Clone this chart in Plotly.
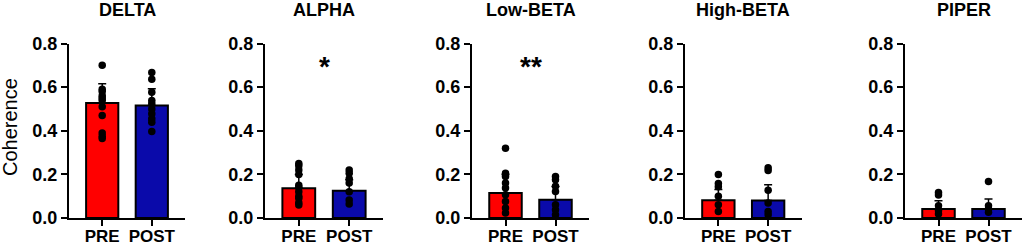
import plotly.graph_objects as go

bands = ["DELTA", "ALPHA", "Low-BETA", "High-BETA", "PIPER"]
groups = ["PRE", "POST"]
pre_mean = [0.527, 0.136, 0.115, 0.081, 0.041]
post_mean = [0.516, 0.125, 0.084, 0.080, 0.041]
pre_sd = [0.089, 0.064, 0.085, 0.050, 0.038]
post_sd = [0.077, 0.050, 0.060, 0.073, 0.046]
pre_points = [
    [0.70, 0.59, 0.58, 0.56, 0.55, 0.54, 0.51, 0.47, 0.39, 0.375, 0.365],
    [0.25, 0.24, 0.22, 0.20, 0.15, 0.14, 0.12, 0.10, 0.09, 0.07, 0.06],
    [0.32, 0.205, 0.19, 0.16, 0.137, 0.107, 0.076, 0.046, 0.023],
    [0.20, 0.158, 0.143, 0.10, 0.061, 0.03],
    [0.117, 0.105, 0.056, 0.033, 0.018],
]
post_points = [
    [0.667, 0.636, 0.577, 0.539, 0.524, 0.50, 0.478, 0.455, 0.439, 0.397],
    [0.22, 0.205, 0.18, 0.16, 0.12, 0.082, 0.064],
    [0.19, 0.175, 0.145, 0.122, 0.061, 0.038, 0.015],
    [0.23, 0.218, 0.127, 0.069, 0.03, 0.015],
    [0.167, 0.056, 0.041, 0.026],
]
significance = ["", "*", "**", "", ""]
y_ticks = [0.0, 0.2, 0.4, 0.6, 0.8]

W, H = 1024, 246
px_domains = [(69, 185), (265, 383), (472, 589), (685, 801.5), (905, 1022)]
y_bottom_px, y_top_px = 218, 43.5
ydom = [(H - y_bottom_px) / H, (H - y_top_px) / H]

FONT = "Liberation Sans, Arial, sans-serif"
RED = "#FF0000"
BLUE = "#0A0AAA"

fig = go.Figure()
annotations = []
for i, band in enumerate(bands):
    xa = "x" if i == 0 else f"x{i+1}"
    ya = "y" if i == 0 else f"y{i+1}"
    fig.add_trace(go.Bar(
        x=groups, y=[pre_mean[i], post_mean[i]],
        marker=dict(color=[RED, BLUE], line=dict(color="black", width=2)),
        width=0.65,
        error_y=dict(type="data", symmetric=False, array=[pre_sd[i], post_sd[i]],
                     arrayminus=[0, 0], color="black", thickness=1.5, width=4),
        xaxis=xa, yaxis=ya, showlegend=False, hoverinfo="skip",
    ))
    xs = ["PRE"] * len(pre_points[i]) + ["POST"] * len(post_points[i])
    ys = pre_points[i] + post_points[i]
    fig.add_trace(go.Scatter(
        x=xs, y=ys, mode="markers",
        marker=dict(color="black", size=7.5),
        xaxis=xa, yaxis=ya, showlegend=False, cliponaxis=False,
    ))
    d0, d1 = px_domains[i]
    dom = [d0 / W, d1 / W]
    axis_common = dict(showline=True, linecolor="black", linewidth=2,
                       ticks="outside", tickcolor="black", tickwidth=2,
                       showgrid=False, zeroline=False, automargin=False)
    fig.update_layout(**{
        ("xaxis" if i == 0 else f"xaxis{i+1}"): dict(
            domain=dom, anchor=ya, range=[-0.67, 1.67], ticklen=6,
            type="category", categoryorder="array", categoryarray=groups,
            ticklabelstandoff=-4,
            tickfont=dict(family=FONT, size=17, color="black", weight="bold"),
            **axis_common),
        ("yaxis" if i == 0 else f"yaxis{i+1}"): dict(
            domain=ydom, anchor=xa, range=[0, 0.8], tickvals=y_ticks,
            ticktext=[f"{v:.1f}" for v in y_ticks], ticklen=6,
            tickfont=dict(family=FONT, size=18, color="black", weight="bold"),
            **axis_common),
    })
    cx = (d0 + d1) / 2 / W
    annotations.append(dict(x=cx, y=(H - 10) / H, xref="paper", yref="paper",
                            text=f"<b>{band}</b>", showarrow=False,
                            font=dict(family=FONT, size=18, color="black"),
                            xanchor="center", yanchor="middle"))
    if significance[i]:
        annotations.append(dict(x=cx, y=(H - 66) / H, xref="paper", yref="paper",
                                text=f"<b>{significance[i]}</b>", showarrow=False,
                                font=dict(family=FONT, size=28, color="black"),
                                xanchor="center", yanchor="middle"))

annotations.append(dict(x=10 / W, y=(H - 127) / H, xref="paper", yref="paper",
                        text="Coherence", textangle=-90, showarrow=False,
                        font=dict(family=FONT, size=20, color="black"),
                        xanchor="center", yanchor="middle"))

fig.update_layout(width=W, height=H, margin=dict(l=0, r=0, t=0, b=0, autoexpand=False),
                  plot_bgcolor="white", paper_bgcolor="white",
                  annotations=annotations, bargap=0.35)

fig.write_html("out.html", config={"displayModeBar": False},
               post_script="document.body.style.margin='0';document.body.style.overflow='hidden';")
